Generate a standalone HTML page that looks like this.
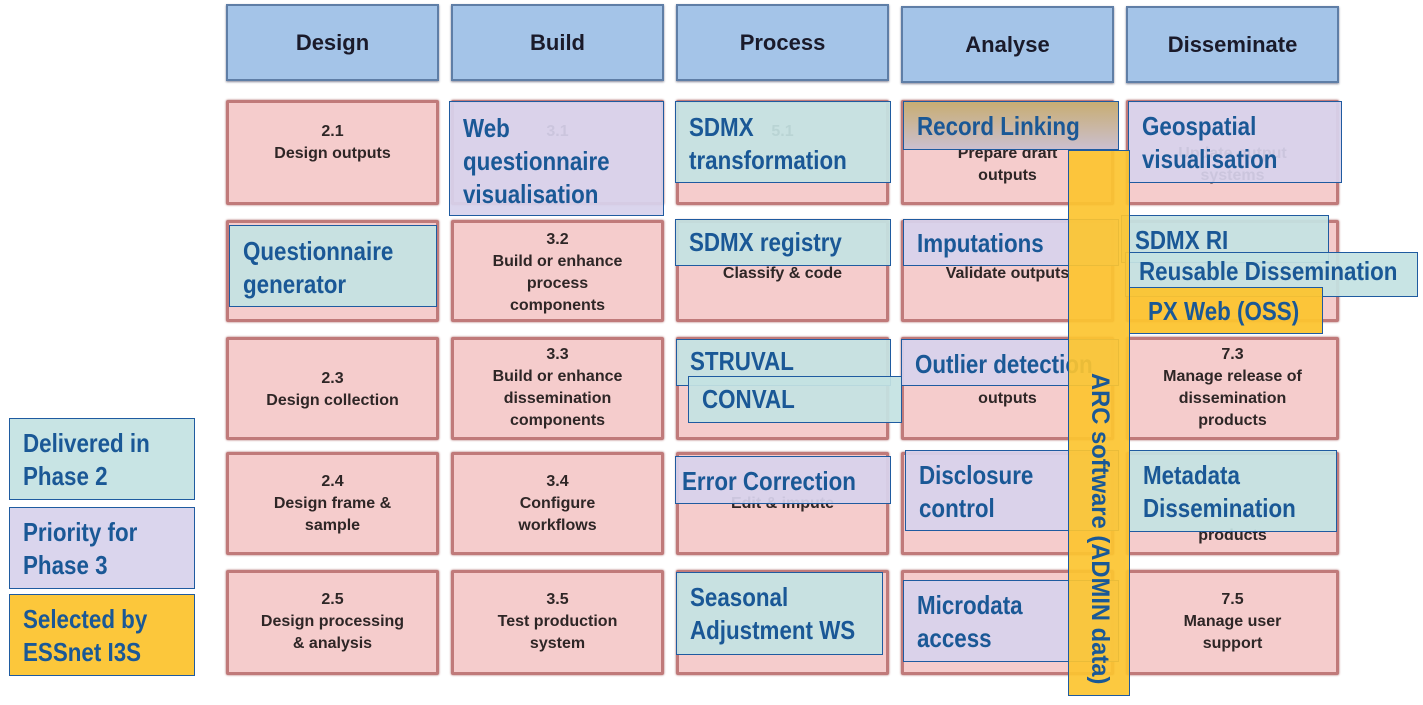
<!DOCTYPE html>
<html><head><meta charset="utf-8"><style>
body{margin:0;width:1423px;height:705px;background:#fff;position:relative;overflow:hidden;font-family:"Liberation Sans",sans-serif}
.h{position:absolute;background:#a4c4e8;border:2px solid #5f7ea6;box-shadow:0 1px 2px #889;box-sizing:border-box;display:flex;align-items:center;justify-content:center;font-weight:bold;font-size:22px;color:#1a1a2a}
.p{position:absolute;background:#f5cccc;border:3px solid #c07a7a;box-shadow:0 0 2px #a66;border-radius:2px;box-sizing:border-box;text-align:center;font-weight:bold;font-size:16px;color:#2e2626;line-height:22px;padding-top:18px}
.o{position:absolute;box-sizing:border-box;border:1.5px solid #1f5ba0;font-family:"Liberation Sans",sans-serif;font-weight:bold;color:#1a5896;font-size:26px;line-height:33px;padding:9px 0 0 13px;white-space:nowrap}
.o>span{display:inline-block;transform:scaleX(.86);transform-origin:0 0}
.t{background:rgba(196,226,226,.93)}
.l{background:rgba(215,210,236,.93)}
.y{background:rgba(252,196,48,.95)}
</style></head><body>
<div class="h" style="left:226px;top:4px;width:213px;height:77px">Design</div>
<div class="h" style="left:451px;top:4px;width:213px;height:77px">Build</div>
<div class="h" style="left:676px;top:4px;width:213px;height:77px">Process</div>
<div class="h" style="left:901px;top:6px;width:213px;height:77px">Analyse</div>
<div class="h" style="left:1126px;top:6px;width:213px;height:77px">Disseminate</div>

<div class="p" style="left:226px;top:100px;width:213px;height:105px">2.1<br>Design outputs</div>
<div class="p" style="left:451px;top:100px;width:213px;height:105px">3.1</div>
<div class="p" style="left:676px;top:100px;width:213px;height:105px">5.1</div>
<div class="p" style="left:901px;top:100px;width:213px;height:105px;padding-top:40px">Prepare draft<br>outputs</div>
<div class="p" style="left:1126px;top:100px;width:213px;height:105px;padding-top:40px">Update output<br>systems</div>

<div class="p" style="left:226px;top:220px;width:213px;height:102px"></div>
<div class="p" style="left:451px;top:220px;width:213px;height:102px;padding-top:6px">3.2<br>Build or enhance<br>process<br>components</div>
<div class="p" style="left:676px;top:220px;width:213px;height:102px;padding-top:40px">Classify &amp; code</div>
<div class="p" style="left:901px;top:220px;width:213px;height:102px;padding-top:40px">Validate outputs</div>
<div class="p" style="left:1126px;top:220px;width:213px;height:102px"></div>

<div class="p" style="left:226px;top:337px;width:213px;height:103px;padding-top:28px">2.3<br>Design collection</div>
<div class="p" style="left:451px;top:337px;width:213px;height:103px;padding-top:4px">3.3<br>Build or enhance<br>dissemination<br>components</div>
<div class="p" style="left:676px;top:337px;width:213px;height:103px"></div>
<div class="p" style="left:901px;top:337px;width:213px;height:103px;padding-top:48px">outputs</div>
<div class="p" style="left:1126px;top:337px;width:213px;height:103px;padding-top:4px">7.3<br>Manage release of<br>dissemination<br>products</div>

<div class="p" style="left:226px;top:452px;width:213px;height:103px;padding-top:16px">2.4<br>Design frame &amp;<br>sample</div>
<div class="p" style="left:451px;top:452px;width:213px;height:103px;padding-top:16px">3.4<br>Configure<br>workflows</div>
<div class="p" style="left:676px;top:452px;width:213px;height:103px;padding-top:38px">Edit &amp; impute</div>
<div class="p" style="left:901px;top:452px;width:213px;height:103px"></div>
<div class="p" style="left:1126px;top:452px;width:213px;height:103px;padding-top:70px">products</div>

<div class="p" style="left:226px;top:570px;width:213px;height:105px;padding-top:16px">2.5<br>Design processing<br>&amp; analysis</div>
<div class="p" style="left:451px;top:570px;width:213px;height:105px;padding-top:16px">3.5<br>Test production<br>system</div>
<div class="p" style="left:676px;top:570px;width:213px;height:105px"></div>
<div class="p" style="left:901px;top:570px;width:213px;height:105px"></div>
<div class="p" style="left:1126px;top:570px;width:213px;height:105px;padding-top:16px">7.5<br>Manage user<br>support</div>

<div class="o l" style="left:449px;top:101px;width:215px;height:115px;padding-top:10px"><span>Web<br>questionnaire<br>visualisation</span></div>
<div class="o t" style="left:229px;top:225px;width:208px;height:82px;padding-top:9px"><span>Questionnaire<br>generator</span></div>
<div class="o t" style="left:675px;top:101px;width:216px;height:82px;padding-top:9px"><span>SDMX<br>transformation</span></div>
<div class="o t" style="left:675px;top:219px;width:216px;height:47px;padding-top:6px"><span>SDMX registry</span></div>
<div class="o t" style="left:676px;top:339px;width:215px;height:47px;padding-top:5px"><span>STRUVAL</span></div>
<div class="o t" style="left:688px;top:376px;width:214px;height:47px;padding-top:6px"><span>CONVAL</span></div>
<div class="o l" style="left:675px;top:456px;width:216px;height:48px;padding:8px 0 0 6px"><span>Error Correction</span></div>
<div class="o t" style="left:676px;top:572px;width:207px;height:83px;padding-top:8px"><span>Seasonal<br>Adjustment WS</span></div>

<div class="o" style="left:903px;top:101px;width:216px;height:49px;padding-top:8px;background:linear-gradient(#c8ad72,#cbbfcf)"><span>Record Linking</span></div>
<div class="o l" style="left:903px;top:219px;width:216px;height:47px;padding-top:7px"><span>Imputations</span></div>
<div class="o l" style="left:901px;top:339px;width:218px;height:47px;padding-top:8px"><span>Outlier detection</span></div>
<div class="o l" style="left:905px;top:450px;width:214px;height:81px;padding-top:8px"><span>Disclosure<br>control</span></div>
<div class="o l" style="left:903px;top:580px;width:216px;height:82px;padding-top:8px"><span>Microdata<br>access</span></div>

<div class="o l" style="left:1128px;top:101px;width:214px;height:82px;padding-top:8px"><span>Geospatial<br>visualisation</span></div>
<div class="o t" style="left:1121px;top:215px;width:208px;height:48px;padding-top:8px"><span>SDMX RI</span></div>
<div class="o t" style="left:1125px;top:252px;width:293px;height:45px;padding:2px 0 0 13px"><span>Reusable Dissemination</span></div>
<div class="o y" style="left:1129px;top:287px;width:194px;height:47px;padding:7px 0 0 18px"><span>PX Web (OSS)</span></div>
<div class="o t" style="left:1129px;top:450px;width:208px;height:82px;padding-top:8px"><span>Metadata<br>Dissemination</span></div>

<div class="o y" style="left:1068px;top:150px;width:62px;height:546px;padding:0;background:rgba(252,196,48,.92)">
<div style="position:absolute;left:46px;top:222px;transform:rotate(90deg) scaleX(.95);transform-origin:0 0;font-size:25px;line-height:30px">ARC software (ADMIN data)</div></div>

<div class="o t" style="left:9px;top:418px;width:186px;height:82px;padding-top:8px"><span>Delivered in<br>Phase 2</span></div>
<div class="o l" style="left:9px;top:507px;width:186px;height:82px;padding-top:8px"><span>Priority for<br>Phase 3</span></div>
<div class="o y" style="left:9px;top:594px;width:186px;height:82px;padding-top:8px"><span>Selected by<br>ESSnet I3S</span></div>
</body></html>
